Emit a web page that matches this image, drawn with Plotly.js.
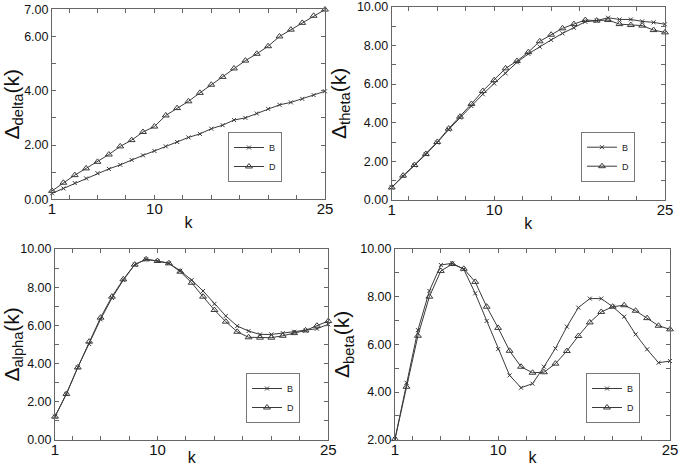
<!DOCTYPE html>
<html>
<head>
<meta charset="utf-8">
<script src="https://cdn.plot.ly/plotly-3.0.1.min.js"></script>
<style>html,body{margin:0;padding:0;background:#fff;}#chart{width:679px;height:466px;}</style>
</head>
<body>
<div id="chart"></div>
<script>
const k = [1,2,3,4,5,6,7,8,9,10,11,12,13,14,15,16,17,18,19,20,21,22,23,24,25];

const deltaB = [0.22,0.40,0.60,0.77,0.96,1.12,1.27,1.45,1.62,1.78,1.95,2.11,2.28,2.41,2.60,2.73,2.92,3.00,3.16,3.33,3.48,3.57,3.70,3.84,3.98];
const deltaD = [0.31,0.61,0.89,1.14,1.38,1.65,1.95,2.18,2.48,2.68,3.09,3.36,3.61,3.92,4.22,4.51,4.82,5.11,5.36,5.64,6.00,6.25,6.50,6.76,6.99];

const thetaB = [0.65,1.24,1.79,2.36,2.97,3.64,4.26,4.86,5.47,6.03,6.55,7.12,7.56,7.93,8.28,8.62,8.91,9.22,9.28,9.43,9.34,9.34,9.24,9.19,9.09];
const thetaD = [0.65,1.26,1.81,2.38,3.00,3.69,4.31,4.97,5.64,6.20,6.81,7.19,7.65,8.21,8.55,8.88,9.10,9.31,9.28,9.31,9.10,9.05,9.02,8.79,8.67];

const alphaB = [1.21,2.40,3.79,5.02,6.31,7.43,8.37,9.18,9.46,9.37,9.25,8.86,8.37,7.80,7.12,6.49,5.96,5.70,5.52,5.52,5.59,5.66,5.72,5.82,6.05];
const alphaD = [1.21,2.40,3.79,5.14,6.40,7.50,8.41,9.18,9.46,9.37,9.25,8.81,8.23,7.50,6.80,6.19,5.66,5.37,5.35,5.35,5.45,5.59,5.73,5.98,6.22];

const betaB = [2.03,4.39,6.60,8.24,9.33,9.40,9.15,8.14,6.98,5.80,4.70,4.18,4.35,5.06,5.83,6.74,7.54,7.92,7.92,7.58,7.16,6.42,5.79,5.23,5.30];
const betaD = [2.03,4.22,6.36,8.00,9.08,9.37,9.17,8.62,7.58,6.69,5.73,5.06,4.81,4.83,5.19,5.72,6.35,6.92,7.36,7.58,7.64,7.41,7.10,6.78,6.63];

const seriesNames = ['B','D'];
const xTickVals = [1,10,25];
const xTickText = ['1','10','25'];
const xMinorVals = [2.5,5,7.5,12.5,15,17.5,20,22.5];
const yTickVals7 = [0,2,4,6,7];
const yTickText7 = ['0.00','2.00','4.00','6.00','7.00'];
const yMinor7 = [1,3,5];
const yTickVals10 = [0,2,4,6,8,10];
const yTickText10 = ['0.00','2.00','4.00','6.00','8.00','10.00'];
const yMinor10 = [1,3,5,7,9];
const yTickValsBeta = [2,4,6,8,10];
const yTickTextBeta = ['2.00','4.00','6.00','8.00','10.00'];
const yMinorBeta = [3,5,7,9];
const yTitles = ['delta','theta','alpha','beta'];

const panels = [
  {B: deltaB, D: deltaD, range:[0,7], tv:yTickVals7, tt:yTickText7, mv:yMinor7},
  {B: thetaB, D: thetaD, range:[0,10], tv:yTickVals10, tt:yTickText10, mv:yMinor10},
  {B: alphaB, D: alphaD, range:[0,10], tv:yTickVals10, tt:yTickText10, mv:yMinor10},
  {B: betaB, D: betaD, range:[2,10], tv:yTickValsBeta, tt:yTickTextBeta, mv:yMinorBeta}
];

const W = 679, H = 466;
const boxes = [
  {x0:52, x1:325, y0:9.3, y1:199.3, lx:228, ly:132},
  {x0:391.7, x1:665, y0:6.7, y1:200, lx:581, ly:131.7},
  {x0:55, x1:328.3, y0:249, y1:439.7, lx:246, ly:373},
  {x0:395, x1:670, y0:249, y1:439.7, lx:586, ly:373}
];

const lineCol = '#3a3a3a';
const axCol = '#666';
const data = [];
const layout = {
  width: W, height: H,
  margin: {l:0, r:0, t:0, b:0},
  paper_bgcolor: '#fff', plot_bgcolor: '#fff',
  font: {family: 'Liberation Sans, Arial, sans-serif', color: '#111'}
};

panels.forEach((p, i) => {
  const n = i === 0 ? '' : String(i + 1);
  const b = boxes[i];
  const legName = 'legend' + n;
  data.push({
    x: k, y: p.B, name: seriesNames[0], type: 'scatter', mode: 'lines+markers',
    xaxis: 'x' + n, yaxis: 'y' + n, legend: legName, cliponaxis: false,
    line: {color: lineCol, width: 1},
    marker: {symbol: 'x-thin', size: 4, color: lineCol, line: {color: lineCol, width: 1}}
  });
  data.push({
    x: k, y: p.D, name: seriesNames[1], type: 'scatter', mode: 'lines+markers',
    xaxis: 'x' + n, yaxis: 'y' + n, legend: legName, cliponaxis: false,
    line: {color: lineCol, width: 1},
    marker: {symbol: 'triangle-up-open', size: 6, color: lineCol, line: {color: lineCol, width: 1}}
  });
  layout['xaxis' + n] = {
    domain: [b.x0 / W, b.x1 / W], anchor: 'y' + n,
    range: [1, 25], tickmode: 'array', tickvals: xTickVals, ticktext: xTickText,
    ticks: 'inside', ticklen: 4, tickcolor: axCol, mirror: 'ticks',
    minor: {tickmode: 'array', tickvals: xMinorVals, ticks: 'inside', ticklen: 4, tickcolor: axCol, showgrid: false},
    showline: true, linecolor: axCol, linewidth: 1, showgrid: false, zeroline: false,
    tickfont: {size: 15, color: '#111'}, ticklabelstandoff: -4,
    title: {text: 'k', font: {size: 16, color: '#111'}, standoff: 0}
  };
  layout['yaxis' + n] = {
    domain: [1 - b.y1 / H, 1 - b.y0 / H], anchor: 'x' + n,
    range: p.range, tickmode: 'array', tickvals: p.tv, ticktext: p.tt,
    ticks: 'inside', ticklen: 4, tickcolor: axCol, mirror: 'ticks',
    minor: {tickmode: 'array', tickvals: p.mv, ticks: 'inside', ticklen: 4, tickcolor: axCol, showgrid: false},
    showline: true, linecolor: axCol, linewidth: 1, showgrid: false, zeroline: false,
    tickfont: {size: 12.5, color: '#111'},
    title: {text: 'Δ<sub>' + yTitles[i] + '</sub>(k)', font: {size: 21, color: '#111'}, standoff: 4}
  };
  layout[legName] = {
    x: b.lx / W, y: 1 - b.ly / H, xanchor: 'left', yanchor: 'top',
    bordercolor: '#777', borderwidth: 1, bgcolor: '#fff',
    font: {size: 9, color: '#222'}, itemwidth: 30, tracegroupgap: 0
  };
});

Plotly.newPlot('chart', data, layout, {displayModeBar: false, staticPlot: true});
</script>
</body>
</html>
